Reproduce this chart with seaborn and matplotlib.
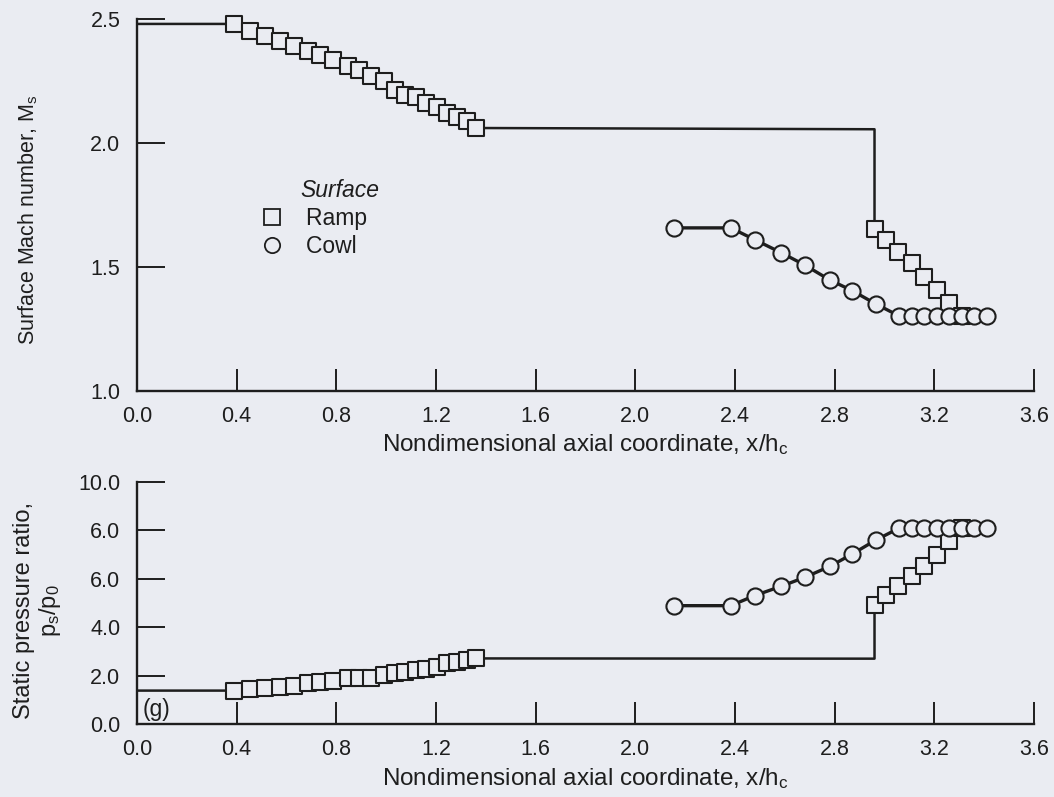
import matplotlib
matplotlib.use("Agg")
import matplotlib.pyplot as plt
from matplotlib.lines import Line2D
import seaborn as sns

# ---------------- DATA ----------------
# forward ramp stations (squares), same stations in both panels
ramp_x_fwd = [0.39, 0.455, 0.515, 0.575, 0.63, 0.685, 0.735, 0.785, 0.845, 0.89, 0.94,
              0.99, 1.035, 1.075, 1.12, 1.16, 1.205, 1.245, 1.285, 1.325, 1.36]
ramp_m_fwd = [2.48, 2.453, 2.432, 2.412, 2.391, 2.372, 2.355, 2.335, 2.311, 2.295, 2.271,
              2.248, 2.212, 2.194, 2.185, 2.161, 2.143, 2.120, 2.104, 2.087, 2.06]
ramp_p_fwd = [1.38, 1.45, 1.47, 1.52, 1.58, 1.68, 1.75, 1.79, 1.89, 1.89, 1.89,
              2.03, 2.10, 2.16, 2.23, 2.26, 2.37, 2.51, 2.58, 2.64, 2.71]

# aft ramp stations (squares)
ramp_x_aft = [2.96, 3.005, 3.055, 3.11, 3.16, 3.21, 3.257, 3.31]
ramp_m_aft = [1.653, 1.608, 1.561, 1.514, 1.46, 1.406, 1.353, 1.30]
ramp_p_aft = [4.90, 5.34, 5.72, 6.10, 6.54, 6.98, 7.57, 8.12]

# cowl stations (circles)
cowl_x = [2.155, 2.383, 2.48, 2.585, 2.68, 2.78, 2.87, 2.965, 3.058, 3.11, 3.16,
          3.21, 3.26, 3.31, 3.36, 3.41]
cowl_m = [1.657, 1.657, 1.609, 1.557, 1.507, 1.447, 1.404, 1.350, 1.302, 1.30, 1.30,
          1.30, 1.30, 1.30, 1.30, 1.30]
cowl_p = [4.89, 4.89, 5.31, 5.69, 6.06, 6.51, 7.02, 7.60, 8.09, 8.09, 8.09,
          8.09, 8.09, 8.09, 8.10, 8.12]

# unmarked ramp boundary values (inflow and plateau before the step)
m_inflow, m_plateau = 2.48, 2.055
p_inflow, p_plateau = 1.38, 2.70

x_ticks = [0.0, 0.4, 0.8, 1.2, 1.6, 2.0, 2.4, 2.8, 3.2, 3.6]
m_ticks = [1.0, 1.5, 2.0, 2.5]
p_ticks = [0, 2, 4, 6, 8, 10]
p_ticklabels = ["0.0", "2.0", "4.0", "6.0", "6.0", "10.0"]

BG = "#eaecf2"
INK = "#1e1e1e"

sns.set_theme(style="white")
plt.rcParams["font.family"] = ["Liberation Sans", "DejaVu Sans"]
plt.rcParams["mathtext.fontset"] = "custom"
plt.rcParams["mathtext.rm"] = "Liberation Sans"
plt.rcParams["mathtext.it"] = "Liberation Sans:italic"

fig = plt.figure(figsize=(10.54, 7.97), dpi=100, facecolor=BG)
ax1 = fig.add_axes([0.13, 0.5098, 0.851, 0.4664])
ax2 = fig.add_axes([0.13, 0.0916, 0.851, 0.3036])


def draw_panel(ax, fwd, aft, cowl, inflow, plateau):
    line_x = [0.0] + ramp_x_fwd + [ramp_x_aft[0]] + ramp_x_aft
    line_y = [inflow] + fwd + [plateau] + aft
    sns.lineplot(x=line_x, y=line_y, ax=ax, estimator=None, sort=False,
                 color=INK, lw=1.8, zorder=2)
    sns.lineplot(x=cowl_x, y=cowl, ax=ax, estimator=None, sort=False,
                 color=INK, lw=2.4, zorder=2)
    sns.scatterplot(x=ramp_x_fwd + ramp_x_aft, y=fwd + aft, ax=ax, marker="s", s=135,
                    facecolor=BG, edgecolor=INK, linewidth=1.5, zorder=3, clip_on=False)
    sns.scatterplot(x=cowl_x, y=cowl, ax=ax, marker="o", s=135,
                    facecolor=BG, edgecolor=INK, linewidth=1.5, zorder=4, clip_on=False)


draw_panel(ax1, ramp_m_fwd, ramp_m_aft, cowl_m, m_inflow, m_plateau)
draw_panel(ax2, ramp_p_fwd, ramp_p_aft, cowl_p, p_inflow, p_plateau)

for ax in (ax1, ax2):
    ax.set_facecolor(BG)
    ax.set_xlim(0, 3.6)
    ax.set_xticks(x_ticks)
    ax.set_xticklabels([f"{t:.1f}" for t in x_ticks])
    sns.despine(ax=ax)
    for s in ("left", "bottom"):
        ax.spines[s].set_color(INK)
        ax.spines[s].set_linewidth(1.7)
    ax.tick_params(axis="y", direction="in", length=20, width=1.4, color=INK,
                   labelsize=15.5, pad=12, labelcolor=INK, left=True)
    ax.tick_params(axis="x", direction="in", length=16, width=1.4, color=INK,
                   labelsize=15.5, pad=11, labelcolor=INK, bottom=True)
    ax.set_xlabel(r"Nondimensional axial coordinate, x/h$_\mathrm{c}$",
                  fontsize=17.5, color=INK, labelpad=4)

ax1.set_ylim(1.0, 2.5)
ax1.set_yticks(m_ticks)
ax1.set_yticklabels([f"{t:.1f}" for t in m_ticks])
ax1.set_ylabel(r"Surface Mach number, M$_\mathrm{s}$", fontsize=15.5, color=INK)
ax1.yaxis.set_label_coords(-0.108, 0.46)

ax2.set_ylim(0, 10)
ax2.set_yticks(p_ticks)
ax2.set_yticklabels(p_ticklabels)
ax2.set_ylabel("Static pressure ratio,\n" + r"p$_\mathrm{s}$/p$_0$", fontsize=17,
               color=INK, linespacing=1.15)
ax2.yaxis.set_label_coords(-0.082, 0.47)
ax2.text(0.006, 0.058, "(g)", transform=ax2.transAxes, fontsize=16.5, color=INK,
         ha="left", va="center")

handles = [Line2D([], [], marker="s", ls="none", ms=11, mfc=BG, mec=INK, mew=1.3),
           Line2D([], [], marker="o", ls="none", ms=11, mfc=BG, mec=INK, mew=1.3)]
leg = ax1.legend(handles, ["Ramp  ", "Cowl  "], title="Surface", frameon=False,
                 fontsize=16.5, title_fontsize=16.5, loc="upper left",
                 bbox_to_anchor=(0.127, 0.595), handlelength=1.0, handletextpad=1.0,
                 labelspacing=0.22, borderaxespad=0)
leg.get_title().set_fontstyle("italic")
leg.get_title().set_color(INK)
for t in leg.get_texts():
    t.set_color(INK)
leg._legend_box.align = "right"

fig.savefig("out.png", dpi=100, facecolor=BG)
